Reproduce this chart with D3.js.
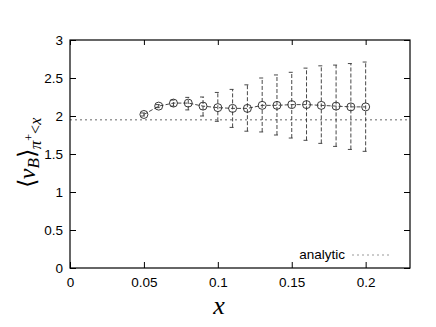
<!DOCTYPE html>
<html>
<head>
<meta charset="utf-8">
<script src="https://cdn.jsdelivr.net/npm/d3@7"></script>
<style>
body { margin: 0; background: #fff; }
text { font-family: "Liberation Sans", Arial, sans-serif; }
</style>
</head>
<body>
<script>
// data
var xs = [0.05, 0.06, 0.07, 0.08, 0.09, 0.10, 0.11, 0.12, 0.13, 0.14, 0.15, 0.16, 0.17, 0.18, 0.19, 0.20]
var ys = [2.02, 2.13, 2.17, 2.17, 2.13, 2.11, 2.10, 2.10, 2.14, 2.14, 2.15, 2.15, 2.14, 2.13, 2.12, 2.12]
var lo = [2.00, 2.11, 2.13, 2.08, 2.00, 1.93, 1.85, 1.80, 1.79, 1.75, 1.71, 1.68, 1.64, 1.60, 1.56, 1.535]
var hi = [2.04, 2.15, 2.21, 2.245, 2.25, 2.31, 2.35, 2.41, 2.50, 2.54, 2.575, 2.63, 2.66, 2.67, 2.69, 2.71]
var analytic = 1.95
var xTicks = [0, 0.05, 0.1, 0.15, 0.2]
var yTicks = [0, 0.5, 1, 1.5, 2, 2.5, 3]

var w = 436, h = 327
var m = {left: 70, right: 410, top: 40, bottom: 268}

var xScale = d3.scaleLinear().domain([0, 0.23]).range([m.left, m.right])
var yScale = d3.scaleLinear().domain([0, 3]).range([m.bottom, m.top])
var fmt = function (d) { return String(d) }

var svg = d3.select('body').append('svg')
	.attr('width', w)
	.attr('height', h)

// analytic line
svg.append('line')
	.attr('x1', xScale(0)).attr('x2', xScale(0.23))
	.attr('y1', yScale(analytic)).attr('y2', yScale(analytic))
	.attr('stroke', '#999').attr('stroke-width', 1.5)
	.attr('stroke-dasharray', '2,3')

// error bars
var pts = xs.map(function (x, i) { return {x: x, y: ys[i], lo: lo[i], hi: hi[i]} })
var eb = svg.append('g').attr('stroke', '#333').attr('stroke-width', 0.9)
eb.selectAll('line.bar').data(pts).enter().append('line')
	.attr('x1', function (d) { return xScale(d.x) })
	.attr('x2', function (d) { return xScale(d.x) })
	.attr('y1', function (d) { return yScale(d.lo) })
	.attr('y2', function (d) { return yScale(d.hi) })
	.attr('stroke-dasharray', '4,2')
eb.selectAll('line.cap1').data(pts).enter().append('line')
	.attr('x1', function (d) { return xScale(d.x) - 3 })
	.attr('x2', function (d) { return xScale(d.x) + 1 })
	.attr('y1', function (d) { return yScale(d.hi) })
	.attr('y2', function (d) { return yScale(d.hi) })
eb.selectAll('line.cap2').data(pts).enter().append('line')
	.attr('x1', function (d) { return xScale(d.x) - 3 })
	.attr('x2', function (d) { return xScale(d.x) + 1 })
	.attr('y1', function (d) { return yScale(d.lo) })
	.attr('y2', function (d) { return yScale(d.lo) })

// dashed connecting line
var line = d3.line()
	.x(function (d) { return xScale(d.x) })
	.y(function (d) { return yScale(d.y) })
svg.append('path')
	.datum(pts)
	.attr('d', line)
	.attr('fill', 'none')
	.attr('stroke', '#333')
	.attr('stroke-width', 0.9)
	.attr('stroke-dasharray', '4,2')

// open circles
svg.selectAll('circle').data(pts).enter().append('circle')
	.attr('cx', function (d) { return xScale(d.x) })
	.attr('cy', function (d) { return yScale(d.y) })
	.attr('r', 4)
	.attr('fill', 'none')
	.attr('stroke', '#222')
	.attr('stroke-width', 0.9)

// frame and ticks (inward, mirrored)
svg.append('rect')
	.attr('x', m.left).attr('y', m.top)
	.attr('width', m.right - m.left).attr('height', m.bottom - m.top)
	.attr('fill', 'none').attr('stroke', '#000').attr('stroke-width', 1.2)

svg.append('g').attr('transform', 'translate(0,' + m.bottom + ')')
	.call(d3.axisBottom(xScale).tickValues(xTicks).tickSizeInner(-6).tickSizeOuter(0).tickFormat(fmt))
	.call(function (g) {
		g.select('.domain').remove()
		g.selectAll('text').attr('y', 9).attr('font-size', 13.5)
			.attr('font-family', '"Liberation Sans", Arial, sans-serif')
	})
svg.append('g').attr('transform', 'translate(0,' + m.top + ')')
	.call(d3.axisTop(xScale).tickValues(xTicks).tickSizeInner(-5).tickSizeOuter(0).tickFormat(''))
	.call(function (g) { g.select('.domain').remove() })
svg.append('g').attr('transform', 'translate(' + m.left + ',0)')
	.call(d3.axisLeft(yScale).tickValues(yTicks).tickSizeInner(-6).tickSizeOuter(0).tickFormat(fmt))
	.call(function (g) {
		g.select('.domain').remove()
		g.selectAll('text').attr('x', -7).attr('font-size', 13.5)
			.attr('font-family', '"Liberation Sans", Arial, sans-serif')
	})
svg.append('g').attr('transform', 'translate(' + m.right + ',0)')
	.call(d3.axisRight(yScale).tickValues(yTicks).tickSizeInner(-6).tickSizeOuter(0).tickFormat(''))
	.call(function (g) { g.select('.domain').remove() })

// axis titles
svg.append('text')
	.attr('x', 219).attr('y', 314)
	.attr('text-anchor', 'middle')
	.style('font-family', '"Liberation Serif", serif')
	.style('font-style', 'italic')
	.attr('font-size', 26)
	.text('x')

var yl = svg.append('text')
	.attr('transform', 'translate(35,153) rotate(-90)')
	.attr('text-anchor', 'middle')
	.style('font-family', '"Liberation Serif", serif')
	.attr('font-size', 24)
yl.append('tspan').text('\u27E8')
yl.append('tspan').style('font-style', 'italic').text('\u03BD')
yl.append('tspan').style('font-style', 'italic').attr('font-size', 17).attr('dy', 4).text('B')
yl.append('tspan').attr('dy', -4).text('\u27E9')
yl.append('tspan').style('font-style', 'italic').attr('font-size', 17).attr('dy', 6).text('\u03C0')
yl.append('tspan').attr('font-size', 12).attr('dy', -8).text('+')
yl.append('tspan').attr('font-size', 16).attr('dy', 8).text('<')
yl.append('tspan').style('font-style', 'italic').attr('font-size', 16).text('x')

// legend
svg.append('text')
	.attr('x', 345).attr('y', 259)
	.attr('text-anchor', 'end')
	.attr('font-size', 13.5)
	.text('analytic')
svg.append('line')
	.attr('x1', 352).attr('x2', 392)
	.attr('y1', 255).attr('y2', 255)
	.attr('stroke', '#999').attr('stroke-width', 1.2)
	.attr('stroke-dasharray', '2,3')
</script>
</body>
</html>
